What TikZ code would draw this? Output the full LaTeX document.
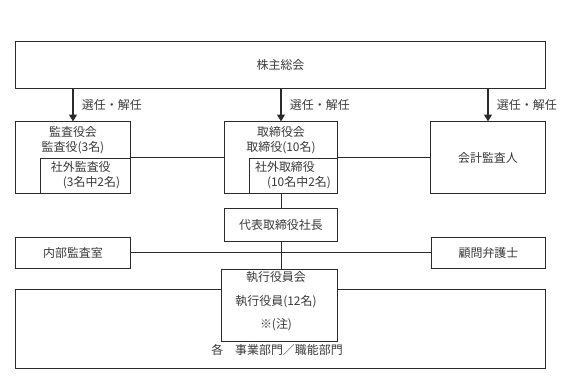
\documentclass[tikz,border=0pt]{standalone}
\usepackage{fontspec}
\setmainfont{Noto Sans CJK JP}
\usetikzlibrary{arrows.meta,positioning}
\definecolor{orgline}{HTML}{2B2B2B}
\definecolor{orgtext}{HTML}{3A3A3A}

\begin{document}
\begin{tikzpicture}[
  x=0.025cm, y=-0.025cm,
  box/.style={draw=orgline, line width=0.7pt, fill=white, inner sep=0pt, align=center,
              font=\fontsize{8.5pt}{10.5pt}\selectfont, text=orgtext},
  caption/.style={inner sep=0pt, align=center, font=\fontsize{8.5pt}{10.5pt}\selectfont, text=orgtext},
  line/.style={draw=orgline, line width=0.6pt},
  appoint/.style={draw=orgline, line width=1.4pt, -{Triangle[width=1.9mm,length=1.7mm]}}
]
\useasboundingbox (0,0) rectangle (579,380);

% Bodies
\node[box, minimum width=13.225cm, minimum height=1.15cm] (meeting) at (280.5,65) {株主総会};
\node[box, minimum width=2.85cm, minimum height=1.775cm] (kansa) at (73,157.5) {};
\node[caption] (kansatitle) at (73,140) {監査役会\\監査役(3名)};
\node[box, minimum width=2.225cm, minimum height=0.875cm, anchor=south east, align=left] (kansaout) at (kansa.south east) {社外監査役\\　(3名中2名)};
\node[box, minimum width=2.8cm, minimum height=1.775cm] (board) at (281,157.5) {};
\node[caption] (boardtitle) at (281,140) {取締役会\\取締役(10名)};
\node[box, minimum width=2.2cm, minimum height=0.875cm, anchor=south east, align=left] (boardout) at (board.south east) {社外取締役\\　(10名中2名)};
\node[box, minimum width=2.85cm, minimum height=1.775cm] (auditor) at (488,157.5) {会計監査人};
\node[box, minimum width=2.825cm, minimum height=0.825cm] (president) at (281,224.5) {代表取締役社長};
\node[box, minimum width=2.85cm, minimum height=0.775cm] (internal) at (73,252.5) {内部監査室};
\node[box, minimum width=2.825cm, minimum height=0.775cm] (advisor) at (488.5,252.5) {顧問弁護士};
\node[box, minimum width=13.225cm, minimum height=1.95cm] (depts) at (280.5,329) {};
\node[caption] (deptlabel) at (277,350) {各　事業部門／職能部門};
\node[box, minimum width=2.875cm, minimum height=1.775cm] (exec) at (279.5,305.5) {};
\node[caption] (exectitle) at (276,301.5) {執行役員会\\[6.2pt]執行役員(12名)\\[6.2pt]※(注)};

% Appointments
\draw[appoint] (meeting.south -| kansa.north) -- node[caption, right=0.2cm]{選任・解任} (kansa.north);
\draw[appoint] (meeting.south -| board.north) -- node[caption, right=0.2cm]{選任・解任} (board.north);
\draw[appoint] (meeting.south -| auditor.north) -- node[caption, right=0.2cm]{選任・解任} (auditor.north);

% Links
\draw[line] (kansaout.north east) -- (board.west |- kansaout.north east);
\draw[line] (boardout.north east) -- (auditor.west |- boardout.north east);
\draw[line] (board.south) -- (president.north);
\draw[line] (internal.east) -- (advisor.west);
\draw[line] (president.south) -- (president.south |- exec.north);
\end{tikzpicture}
\end{document}
